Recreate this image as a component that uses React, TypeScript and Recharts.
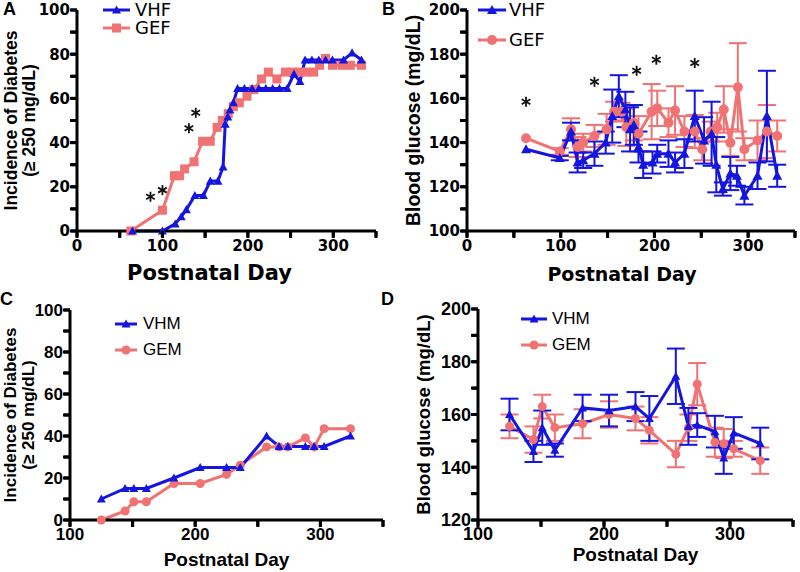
import React from "react";
import { ComposedChart, Line, Scatter, XAxis, YAxis, ErrorBar } from "recharts";

const BLUE = "#1515e0";
const PINK = "#f07272";

// A: incidence of diabetes, females (%)
const vhfIncDays = [65, 100, 115, 122, 128, 138, 148, 156, 165, 171, 173.5, 176.5, 179, 183, 188, 196, 205, 213, 221, 229, 237, 246, 254, 261, 267, 275, 283, 291, 299, 312, 322, 333];
const vhfIncPct = [0, 0, 3.2, 6.5, 9.7, 16.1, 16.1, 22.6, 22.6, 29, 48.4, 51.6, 54.8, 58.1, 64.5, 64.5, 64.5, 64.5, 64.5, 64.5, 64.5, 64.5, 71, 67.7, 77.4, 77.4, 77.4, 77.4, 77.4, 77.4, 80.6, 77.4];
const gefIncDays = [63, 100, 114, 120, 126, 137, 147, 156, 164, 170, 177, 183, 190, 199, 207, 216, 224, 234, 244, 252, 260, 268, 277, 284, 291, 299, 310, 320, 333];
const gefIncPct = [0, 9.4, 25, 25, 28.1, 31.3, 40.6, 40.6, 46.9, 50, 53.1, 56.3, 58, 61, 64, 68.8, 71.9, 68.8, 71.9, 71.9, 71.9, 71.9, 71.9, 75, 78.1, 75, 75, 75, 75];
const starsADays = [86, 100, 131, 139];
const starsAPct = [15.5, 18.5, 46.5, 53.5];

// B: blood glucose, females (mg/dL, mean ± SEM)
const vhfGluDays = [63, 99, 111, 118, 124, 136, 148, 155, 162, 169, 174, 178, 183, 188, 198, 203, 215, 222, 232, 243, 253, 261, 266, 273, 281, 288, 296, 310, 320, 331];
const vhfGlu = [137, 133, 145, 131, 132, 135, 140, 152, 161, 155, 146, 148, 138, 130, 131, 135, 135, 131, 135, 152, 141, 144, 130, 119, 126, 125, 116, 125, 152, 125];
const vhfGluSem = [0, 1, 4, 4.5, 3.5, 5.5, 5, 12, 9.5, 8, 10, 9, 7, 6, 5, 4, 6, 4.5, 6.5, 11.5, 10.5, 14.5, 12.5, 3, 7.5, 4.5, 4, 6, 20.5, 5];
const gefGluDays = [63, 99, 111, 118, 124, 136, 149, 157, 165, 170, 178, 183, 197, 203, 215, 222, 232, 243, 251, 260, 267, 274, 281, 289, 296, 310, 320, 331];
const gefGlu = [142, 136, 146, 138, 140, 143, 146, 154, 154, 147, 149, 144, 154, 155.5, 149, 154.5, 145, 145, 137, 145, 147, 155, 140, 165, 137, 141, 145, 143];
const gefGluSem = [0, 1.5, 5, 4.5, 4, 5, 7, 4.5, 4, 8.5, 8, 8, 12.5, 8, 6.5, 11, 7, 7.5, 5, 4.5, 6.5, 10.5, 6, 20, 5, 9, 12, 7];
const starsBDays = [63, 136, 181, 202, 243];
const starsBGlu = [158.5, 167.5, 172.5, 177.5, 176];

// C and D: males
const maleDays = [125, 144, 151, 161, 183, 204, 225, 236, 257, 267, 274, 288, 295, 303, 324];
const vhmIncPct = [10, 15, 15, 15, 20, 25, 25, 25, 40, 35, 35, 35, 35, 35, 40];
const gemIncPct = [0, 4.3, 8.7, 8.7, 17.4, 17.4, 21.7, 26.1, 34.8, 34.8, 34.8, 39.1, 34.8, 43.5, 43.5];
const vhmGlu = [160, 146, 155, 146.5, 162.5, 161.5, 163, 158.5, 174.5, 155.5, 156, 153.5, 143.5, 153, 149];
const vhmGluSem = [6, 4, 6.5, 2.5, 5, 6, 5.5, 8.5, 10.5, 7, 4.5, 6, 6, 6, 6];
const gemGlu = [155.5, 150.5, 163, 155, 156.5, 160, 158.5, 154, 145, 155, 171.5, 149.5, 149, 147, 142.5];
const gemGluSem = [4.5, 5, 4.5, 5, 5.5, 5, 4.5, 5, 5, 5, 8, 5.5, 5.5, 3, 5];

// ticks
const dayTicksA = [0, 50, 100, 150, 200, 250, 300, 350];
const dayTicksC = [100, 150, 200, 250, 300, 350];
const pctTicks = [0, 10, 20, 30, 40, 50, 60, 70, 80, 90, 100];
const gluTicksB = [100, 110, 120, 130, 140, 150, 160, 170, 180, 190, 200];
const gluTicksD = [120, 130, 140, 150, 160, 170, 180, 190, 200];

const zip = (days: number[], vals: number[], errs?: number[]) =>
  days.map((day, i) => ({ day, val: vals[i], err: errs ? errs[i] : 0 }));

type Shape = "tri" | "sq" | "circ";

function drawMarker(shape: Shape, color: string, s: number, cx: number, cy: number, key?: string) {
  if (shape === "tri")
    return <polygon key={key} points={`${cx},${cy - s} ${cx - s},${cy + s * 0.8} ${cx + s},${cy + s * 0.8}`} fill={color} />;
  if (shape === "sq")
    return <rect key={key} x={cx - s} y={cy - s} width={2 * s} height={2 * s} fill={color} />;
  return <circle key={key} cx={cx} cy={cy} r={s} fill={color} />;
}

const dotFn = (shape: Shape, color: string, s: number) => (p: any) => {
  if (p.cx == null || p.cy == null) return <g key={`m${p.index}`} />;
  return drawMarker(shape, color, s, p.cx, p.cy, `m${p.index}`);
};

const starShape = (p: any) => {
  const { cx, cy } = p;
  const r = 5;
  return (
    <g stroke="#111" strokeWidth={1.8}>
      {[90, 30, -30].map((a) => {
        const dx = r * Math.cos((a * Math.PI) / 180);
        const dy = r * Math.sin((a * Math.PI) / 180);
        return <line key={a} x1={cx - dx} y1={cy - dy} x2={cx + dx} y2={cy + dy} />;
      })}
    </g>
  );
};

const TICK_LEN = 6;

// tick marks on the outer side of each axis, placed through the chart's own scales
const xMarkShape = (p: any) => (
  <path d={`M${p.cx},${p.cy} L${p.cx},${p.cy + TICK_LEN + 1}`} stroke="#000" strokeWidth={3} fill="none" />
);
const yMarkShape = (p: any) => (
  <path d={`M${p.cx},${p.cy} L${p.cx - TICK_LEN - 1},${p.cy}`} stroke="#000" strokeWidth={3} fill="none" />
);

const xTickFn = (every: number, font: string, size: number) => (p: any) => {
  const v = p.payload.value;
  if (v % every !== 0) return <g />;
  return (
    <text x={Number(p.x)} y={Number(p.y)} dy="0.74em" textAnchor="middle" fill="#000" fontFamily={font} fontWeight={700} fontSize={size}>
      {v}
    </text>
  );
};

const yTickFn = (every: number, font: string, size: number) => (p: any) => {
  const v = p.payload.value;
  if (v % every !== 0) return <g />;
  return (
    <text x={Number(p.x)} y={Number(p.y)} dy="0.36em" textAnchor="end" fill="#000" fontFamily={font} fontWeight={700} fontSize={size}>
      {v}
    </text>
  );
};

const yTitle = (lines: string[], xs: number[], fontSize: number) => (props: any) => {
  const vb = props.viewBox || {};
  const cy = (vb.y ?? 0) + (vb.height ?? 0) / 2;
  return (
    <g>
      {lines.map((t, i) => (
        <text
          key={i}
          x={xs[i]}
          y={cy}
          transform={`rotate(-90 ${xs[i]} ${cy})`}
          textAnchor="middle"
          dominantBaseline="central"
          fontFamily="Liberation Sans, Arial, sans-serif"
          fontWeight={700}
          fontSize={fontSize}
          fill="#000"
        >
          {t}
        </text>
      ))}
    </g>
  );
};

const AXIS = { stroke: "#000", strokeWidth: 3 };
const TICK = { stroke: "#000", strokeWidth: 3 };

type SeriesCfg = { key: string; color: string; shape: Shape; size: number; data: any[]; err?: boolean };

function Panel(props: any) {
  const {
    left, top, width, height, margin, yWidth, xHeight, xDomain, xTicks, yDomain, yTicks,
    tickFont, fontSize, xMargin, yMargin, series, stars, xTitle, yTitleFn,
  } = props;
  const xMarks = xTicks.map((d: number) => ({ day: d, val: yDomain[0] }));
  const yMarks = yTicks.map((v: number) => ({ day: xDomain[0], val: v }));
  return (
    <div style={{ position: "absolute", left, top }}>
      <ComposedChart width={width} height={height} margin={margin}>
        <XAxis
          type="number"
          dataKey="day"
          domain={xDomain}
          ticks={xTicks}
          interval={0}
          height={xHeight}
          tick={xTickFn(100, tickFont, fontSize)}
          tickSize={TICK_LEN}
          tickMargin={xMargin}
          axisLine={AXIS}
          tickLine={TICK}
          label={xTitle}
        />
        <YAxis
          type="number"
          domain={yDomain}
          ticks={yTicks}
          interval={0}
          width={yWidth}
          tick={yTickFn(20, tickFont, fontSize)}
          tickSize={TICK_LEN}
          tickMargin={yMargin}
          axisLine={AXIS}
          tickLine={TICK}
          label={yTitleFn}
        />
        {series.map((s: SeriesCfg) => (
          <Line
            key={s.key}
            data={s.data}
            dataKey="val"
            stroke={s.color}
            strokeWidth={3}
            dot={dotFn(s.shape, s.color, s.size)}
            activeDot={false}
            isAnimationActive={false}
          >
            {s.err && <ErrorBar dataKey="err" width={9} strokeWidth={2} stroke={s.color} direction="y" />}
          </Line>
        ))}
        {stars && <Scatter data={stars} dataKey="val" shape={starShape} isAnimationActive={false} />}
        <Scatter data={xMarks} dataKey="val" shape={xMarkShape} isAnimationActive={false} />
        <Scatter data={yMarks} dataKey="val" shape={yMarkShape} isAnimationActive={false} />
      </ComposedChart>
    </div>
  );
}

function LegendRow({ left, cy, lineLen, color, shape, size, label, font, fontSize, gap }: any) {
  return (
    <div style={{ position: "absolute", left, top: cy - 9, height: 18, display: "flex", alignItems: "center" }}>
      <svg width={lineLen} height={18}>
        <line x1={0} y1={9} x2={lineLen} y2={9} stroke={color} strokeWidth={3} />
        {drawMarker(shape, color, size, lineLen / 2, 9)}
      </svg>
      <span style={{ marginLeft: gap, fontFamily: font, fontSize, lineHeight: "18px", color: "#000" }}>{label}</span>
    </div>
  );
}

const letterStyle: React.CSSProperties = {
  position: "absolute",
  fontFamily: "Liberation Sans, Arial, sans-serif",
  fontWeight: 700,
  fontSize: 18,
  lineHeight: "18px",
};

const DJ = "DejaVu Sans";
const LIB = "Liberation Sans";

export default function App() {
  const xLabel = (fontSize: number, font: string, offset: number, dx: number) => ({
    value: "Postnatal Day",
    position: "insideBottom",
    offset,
    dx,
    fill: "#000",
    fontSize,
    fontWeight: 700,
    fontFamily: font,
  });

  return (
    <div style={{ position: "absolute", left: 0, top: 0, width: 800, height: 572, background: "#fff" }}>
      <Panel
        left={0}
        top={0}
        width={390}
        height={290}
        margin={{ top: 10, right: 14, bottom: 0, left: 0 }}
        yWidth={77}
        xHeight={59}
        xDomain={[0, 350]}
        xTicks={dayTicksA}
        yDomain={[0, 100]}
        yTicks={pctTicks}
        tickFont={DJ}
        fontSize={15}
        xMargin={3}
        yMargin={1}
        series={[
          { key: "gef", color: PINK, shape: "sq", size: 4.5, data: zip(gefIncDays, gefIncPct) },
          { key: "vhf", color: BLUE, shape: "tri", size: 4.5, data: zip(vhfIncDays, vhfIncPct) },
        ]}
        stars={zip(starsADays, starsAPct)}
        xTitle={xLabel(21, DJ, 10, -17)}
        yTitleFn={yTitle(["Incidence of Diabetes", "(≥ 250 mg/dL)"], [10.5, 28.5], 17.5)}
      />
      <Panel
        left={390}
        top={0}
        width={410}
        height={290}
        margin={{ top: 10, right: 5, bottom: 0, left: 0 }}
        yWidth={77}
        xHeight={59}
        xDomain={[0, 350]}
        xTicks={dayTicksA}
        yDomain={[100, 200]}
        yTicks={gluTicksB}
        tickFont={DJ}
        fontSize={15}
        xMargin={3}
        yMargin={1}
        series={[
          { key: "gef", color: PINK, shape: "circ", size: 5, data: zip(gefGluDays, gefGlu, gefGluSem), err: true },
          { key: "vhf", color: BLUE, shape: "tri", size: 5, data: zip(vhfGluDays, vhfGlu, vhfGluSem), err: true },
        ]}
        stars={zip(starsBDays, starsBGlu)}
        xTitle={xLabel(19, DJ, 9, -9)}
        yTitleFn={yTitle(["Blood glucose (mg/dL)"], [22.5], 19.5)}
      />
      <Panel
        left={0}
        top={290}
        width={400}
        height={282}
        margin={{ top: 20, right: 17, bottom: 0, left: 0 }}
        yWidth={70}
        xHeight={52}
        xDomain={[100, 350]}
        xTicks={dayTicksC}
        yDomain={[0, 100]}
        yTicks={pctTicks}
        tickFont={LIB}
        fontSize={17}
        xMargin={1}
        yMargin={1}
        series={[
          { key: "gem", color: PINK, shape: "circ", size: 4.5, data: zip(maleDays, gemIncPct) },
          { key: "vhm", color: BLUE, shape: "tri", size: 4.5, data: zip(maleDays, vhmIncPct) },
        ]}
        xTitle={xLabel(19, LIB, 6, 0)}
        yTitleFn={yTitle(["Incidence of Diabetes", "(≥ 250 mg/dL)"], [10, 28], 17)}
      />
      <Panel
        left={400}
        top={290}
        width={400}
        height={282}
        margin={{ top: 19, right: 7, bottom: 0, left: 0 }}
        yWidth={78}
        xHeight={52}
        xDomain={[100, 350]}
        xTicks={dayTicksC}
        yDomain={[120, 200]}
        yTicks={gluTicksD}
        tickFont={LIB}
        fontSize={18}
        xMargin={1}
        yMargin={1}
        series={[
          { key: "gem", color: PINK, shape: "circ", size: 4.5, data: zip(maleDays, gemGlu, gemGluSem), err: true },
          { key: "vhm", color: BLUE, shape: "tri", size: 4.5, data: zip(maleDays, vhmGlu, vhmGluSem), err: true },
        ]}
        xTitle={xLabel(19, LIB, 11, 0)}
        yTitleFn={yTitle(["Blood glucose (mg/dL)"], [23.5], 18.5)}
      />

      {/* legends */}
      <LegendRow left={103} cy={10} lineLen={27} color={BLUE} shape="tri" size={4.5} label="VHF" font={DJ} fontSize={18} gap={5} />
      <LegendRow left={103} cy={28} lineLen={27} color={PINK} shape="sq" size={4.5} label="GEF" font={DJ} fontSize={18} gap={5} />
      <LegendRow left={478} cy={10} lineLen={28} color={BLUE} shape="tri" size={5} label="VHF" font={DJ} fontSize={18} gap={3} />
      <LegendRow left={478} cy={40} lineLen={28} color={PINK} shape="circ" size={5} label="GEF" font={DJ} fontSize={18} gap={3} />
      <LegendRow left={115} cy={324} lineLen={22} color={BLUE} shape="tri" size={4.5} label="VHM" font={LIB} fontSize={17} gap={6} />
      <LegendRow left={115} cy={350} lineLen={22} color={PINK} shape="circ" size={4.5} label="GEM" font={LIB} fontSize={17} gap={6} />
      <LegendRow left={521} cy={319} lineLen={26} color={BLUE} shape="tri" size={4.5} label="VHM" font={LIB} fontSize={17} gap={5} />
      <LegendRow left={521} cy={345} lineLen={26} color={PINK} shape="circ" size={4.5} label="GEM" font={LIB} fontSize={17} gap={5} />

      {/* panel letters */}
      <div style={{ ...letterStyle, left: 3, top: 0 }}>A</div>
      <div style={{ ...letterStyle, left: 382, top: 0 }}>B</div>
      <div style={{ ...letterStyle, left: 0, top: 290 }}>C</div>
      <div style={{ ...letterStyle, left: 381, top: 290 }}>D</div>
    </div>
  );
}
